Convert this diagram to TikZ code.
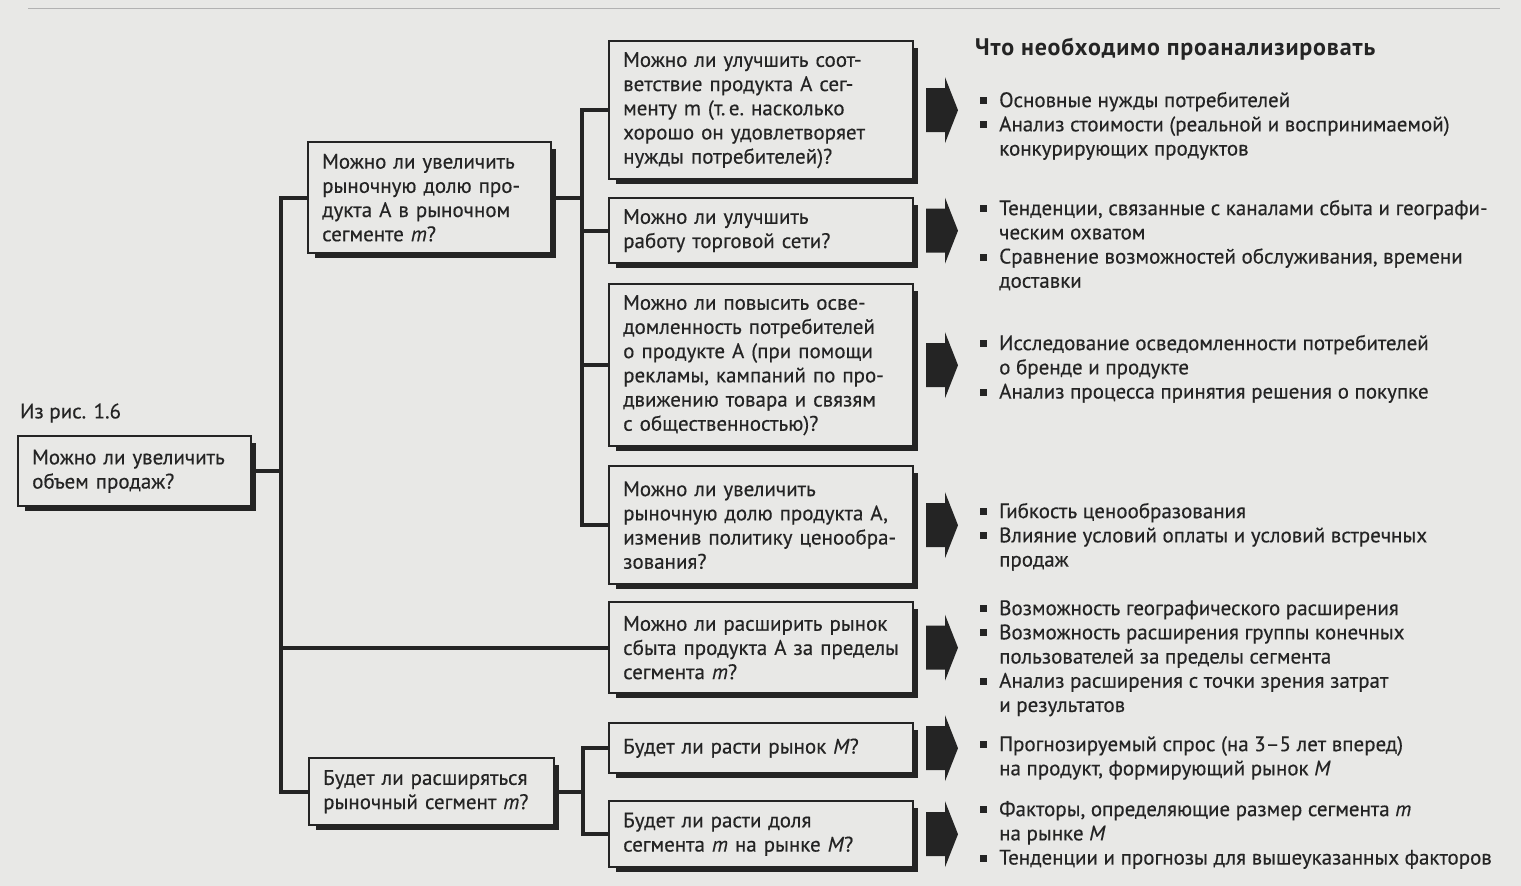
\documentclass[tikz,border=0pt]{standalone}
\usepackage{fontspec}
\setmainfont{PT Sans}[FakeBold=0.35]
\newfontfamily\titlefont{PT Sans}[LetterSpace=3.5]
\usetikzlibrary{calc}
\definecolor{paper}{RGB}{232,232,230}
\definecolor{ink}{RGB}{36,36,36}
\newcommand\txtsize{\fontsize{21}{24.2}\selectfont}
% square bullet and hanging indent for the lists
\newcommand\bsq{\strut\makebox[19pt][l]{\raisebox{3pt}{\rule{7pt}{7pt}}}}
\newcommand\bind{\hspace*{19pt}}

\begin{document}
\begin{tikzpicture}[x=1pt,y=-1pt,
  box/.style={draw=ink, line width=2.4pt, anchor=north west, inner xsep=14pt,
    inner ysep=0pt, align=left, text=ink, font=\txtsize},
  conn/.style={draw=ink, line width=4pt},
  note/.style={anchor=north west, inner sep=0pt, align=left, text=ink, font=\txtsize},
  shadowline/.style={draw=ink, line width=4pt},
  fatarrow/.pic={\fill[ink] (0,-22) -- (19,-22) -- (19,-33) -- (32,0) -- (19,33)
    -- (19,22) -- (0,22) -- cycle;}]

\fill[paper] (0,0) rectangle (1521,886);
\useasboundingbox (0,0) rectangle (1521,886);
\draw[gray!60, line width=0.8pt] (28,8) -- (1500,8);

% question boxes
\newcommand\qbox[6]{%
  \node[box, text width=#4-28, minimum height=#5] (#1) at (#2,#3) {#6};
  \draw[shadowline] ($(#1.north east)+(2,8)$) -- ($(#1.south east)+(2,2)$)
    -- ($(#1.south west)+(8,2)$);}

\node[anchor=west, text=ink, font=\txtsize, inner sep=0pt] (src) at (20,413) {Из рис. 1.6};
\qbox{root}{17}{435}{233}{70}{Можно ли увеличить\\ объем продаж?}
\qbox{b1}{307}{141}{243}{111}{Можно ли увеличить\\ рыночную долю про-\\ дукта А в рыночном\\ сегменте \textit{m}?}
\qbox{b2}{308}{757}{245}{67}{Будет ли расширяться\\ рыночный сегмент \textit{m}?}
\qbox{c1}{608}{40}{304}{138}{Можно ли улучшить соот-\\ ветствие продукта А сег-\\ менту m (т.\,е.\ насколько\\ хорошо он удовлетворяет\\ нужды потребителей)?}
\qbox{c2}{608}{197}{304}{65}{Можно ли улучшить\\ работу торговой сети?}
\qbox{c3}{608}{283}{304}{162}{Можно ли повысить осве-\\ домленность потребителей\\ о продукте А (при помощи\\ рекламы, кампаний по про-\\ движению товара и связям\\ с общественностью)?}
\qbox{c4}{608}{465}{304}{118}{Можно ли увеличить\\ рыночную долю продукта А,\\ изменив политику ценообра-\\ зования?}
\qbox{c5}{608}{601}{304}{91}{Можно ли расширить рынок\\ сбыта продукта А за пределы\\ сегмента \textit{m}?}
\qbox{c6}{608}{722}{304}{50}{Будет ли расти рынок \textit{M}?}
\qbox{c7}{608}{800}{304}{66}{Будет ли расти доля\\ сегмента \textit{m} на рынке \textit{M}?}

% tree connectors
\coordinate (trunk) at (281,0);
\coordinate (sub1) at (582,0);
\coordinate (sub2) at (583,0);
\draw[conn] (b1.west) -- (b1.west -| trunk) -- (b2.west -| trunk) -- (b2.west);
\draw[conn] (root.east) -- (root.east -| trunk);
\draw[conn] (c5.west) -- (c5.west -| trunk);
\draw[conn] (c1.west) -- (c1.west -| sub1) -- (c4.west -| sub1) -- (c4.west);
\draw[conn] (b1.east) -- (b1.east -| sub1);
\draw[conn] (c2.west) -- (c2.west -| sub1);
\draw[conn] (c3.west) -- (c3.west -| sub1);
\draw[conn] (c6.west) -- (c6.west -| sub2) -- (c7.west -| sub2) -- (c7.west);
\draw[conn] (b2.east) -- (b2.east -| sub2);

% block arrows toward the analysis lists
\coordinate (ax) at (926,0);
\foreach \n in {c1,c2,c3,c4,c5,c6,c7} \pic at (\n.east -| ax) {fatarrow};

% analysis lists
\node[anchor=west, text=ink, font=\titlefont\fontsize{24}{26}\selectfont\bfseries, inner sep=0pt] (title) at (975,49) {Что необходимо проанализировать};
\node[note] (g1) at (980,90) {\bsq Основные нужды потребителей\\
\bsq Анализ стоимости (реальной и воспринимаемой)\\
\bind конкурирующих продуктов};
\node[note] (g2) at (980,198) {\bsq Тенденции, связанные с каналами сбыта и географи-\\
\bind ческим охватом\\
\bsq Сравнение возможностей обслуживания, времени\\
\bind доставки};
\node[note] (g3) at (980,333) {\bsq Исследование осведомленности потребителей\\
\bind о бренде и продукте\\
\bsq Анализ процесса принятия решения о покупке};
\node[note] (g4) at (980,501) {\bsq Гибкость ценообразования\\
\bsq Влияние условий оплаты и условий встречных\\
\bind продаж};
\node[note] (g5) at (980,598) {\bsq Возможность географического расширения\\
\bsq Возможность расширения группы конечных\\
\bind пользователей за пределы сегмента\\
\bsq Анализ расширения с точки зрения затрат\\
\bind и результатов};
\node[note] (g6) at (980,734) {\bsq Прогнозируемый спрос (на 3–5 лет вперед)\\
\bind на продукт, формирующий рынок \textit{M}};
\node[note] (g7) at (980,799) {\bsq Факторы, определяющие размер сегмента \textit{m}\\
\bind на рынке \textit{M}\\
\bsq Тенденции и прогнозы для вышеуказанных факторов};
\end{tikzpicture}
\end{document}
